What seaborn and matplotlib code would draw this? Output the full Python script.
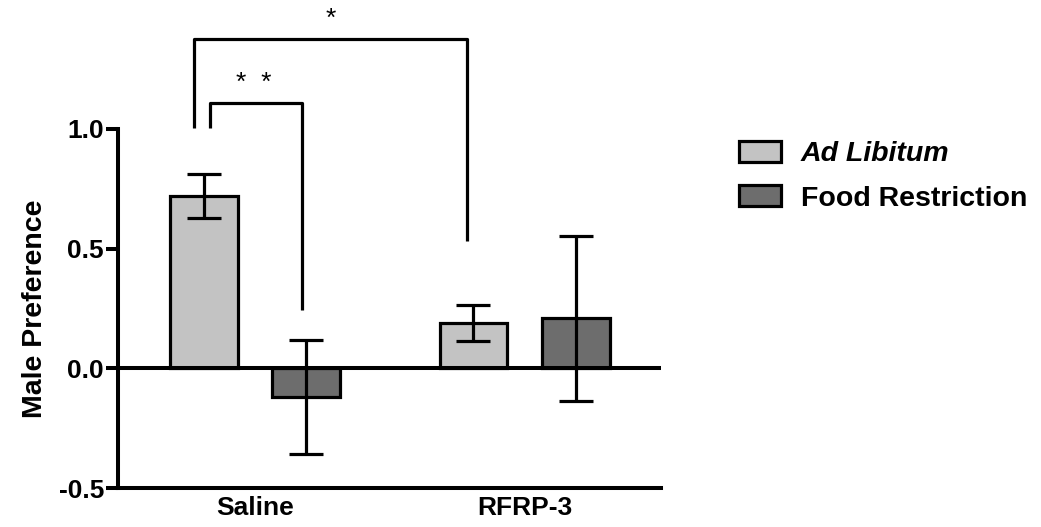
import matplotlib
matplotlib.use('Agg')
import matplotlib.pyplot as plt
import seaborn as sns
import pandas as pd
import numpy as np

# values
groups = ['Saline', 'RFRP-3']
diets = ['Ad Libitum', 'Food Restriction']
mean_adlib = [0.72, 0.19]
mean_fr = [-0.12, 0.21]
sem_adlib = [0.09, 0.075]
sem_fr = [0.24, 0.345]
colors = ['#c3c3c3', '#6d6d6d']

df = pd.DataFrame({
    'Group': groups * 2,
    'Diet': [diets[0]] * 2 + [diets[1]] * 2,
    'Male Preference': mean_adlib + mean_fr,
})
sems = [sem_adlib, sem_fr]

sns.set_style('ticks')
plt.rcParams['font.family'] = ['Liberation Sans', 'DejaVu Sans']
plt.rcParams['font.weight'] = 'bold'
for k in ['text.color', 'axes.labelcolor', 'xtick.color', 'ytick.color', 'axes.edgecolor']:
    plt.rcParams[k] = 'black'

fig = plt.figure(figsize=(10.41, 5.27), dpi=100)
ax = fig.add_axes([118 / 1041, 39 / 527, 543 / 1041, 359 / 527])

sns.barplot(data=df, x='Group', y='Male Preference', hue='Diet', order=groups,
            hue_order=diets, palette=colors, width=0.76, gap=0.34,
            errorbar=None, edgecolor='black', linewidth=2.3, saturation=1,
            ax=ax, zorder=2)

bars = [list(c.patches) for c in ax.containers]
cx = [[p.get_x() + p.get_width() / 2 for p in b] for b in bars]  # cx[diet][group]

# error bars on top of the seaborn bars
for b, xs, err in zip(bars, cx, sems):
    ys = [p.get_height() for p in b]
    ax.errorbar(xs, ys, yerr=err, fmt='none', ecolor='black', elinewidth=2.3,
                capsize=12.5, capthick=2.3, zorder=4)

ax.axhline(0, color='black', lw=2.9, zorder=3)
ax.set_xlim(-0.508, 1.506)
ax.set_ylim(-0.5, 1.0)
ax.set_yticks([-0.5, 0.0, 0.5, 1.0])
ax.set_yticklabels(['-0.5', '0.0', '0.5', '1.0'])
ax.set_xlabel('')
ax.set_ylabel('Male Preference', fontsize=20.5, fontweight='bold', labelpad=8)
ax.tick_params(axis='y', length=9, width=2.9, labelsize=19, pad=1)
ax.tick_params(axis='x', length=0, labelsize=19, pad=6)
for lab in ax.get_xticklabels() + ax.get_yticklabels():
    lab.set_fontweight('bold')
sns.despine(ax=ax)
for s in ['left', 'bottom']:
    ax.spines[s].set_linewidth(2.9)

# significance brackets
kw = dict(color='black', lw=2.3, clip_on=False, solid_capstyle='butt')
# * : Saline AdLib vs RFRP-3 AdLib
x1, x2 = cx[0][0] - 0.035, cx[0][1] - 0.025
ax.plot([x1, x1, x2, x2], [1.005, 1.378, 1.378, 0.534], **kw)
ax.text((x1 + x2) / 2, 1.41, '*', ha='center', va='bottom', fontsize=19,
        fontweight='normal', clip_on=False)
# ** : Saline AdLib vs Saline FR
x1, x2 = cx[0][0] + 0.025, cx[1][0] - 0.015
ax.plot([x1, x1, x2, x2], [1.005, 1.108, 1.108, 0.242], **kw)
ax.text((x1 + x2) / 2 - 0.01, 1.14, '*  *', ha='center', va='bottom', fontsize=19,
        fontweight='normal', clip_on=False)

ax.get_legend().remove()
handles = [plt.Rectangle((0, 0), 1, 1, facecolor=c, edgecolor='black', linewidth=2.3)
           for c in colors]
leg = fig.legend(handles, diets, loc='upper left',
                 bbox_to_anchor=(739 / 1041, 1 - 141 / 527), frameon=False,
                 fontsize=20.5, handlelength=1.47, handleheight=0.74,
                 handletextpad=0.7, labelspacing=0.64, borderpad=0, borderaxespad=0)
leg.get_texts()[0].set_fontstyle('italic')
for t in leg.get_texts():
    t.set_fontweight('bold')

fig.savefig('out.png', dpi=100)
